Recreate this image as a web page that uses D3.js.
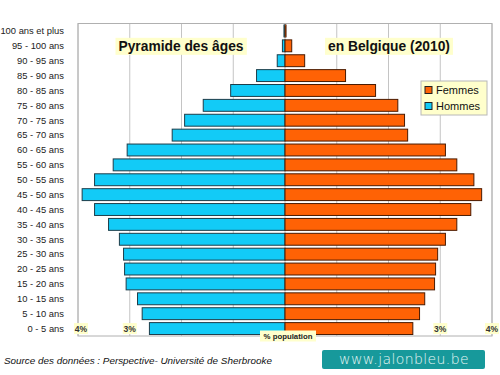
<!DOCTYPE html>
<html>
<head>
<meta charset="utf-8">
<script src="https://cdn.jsdelivr.net/npm/d3@7"></script>
<style>
    body { margin: 0; background: #fff; }
    svg { font-family: Arial, "Liberation Sans", sans-serif; }
</style>
</head>
<body>
<div id="chart"></div>
<script>
// Age groups, top to bottom
const ages = [
    "100 ans et plus", "95 - 100 ans", "90 - 95 ans", "85 - 90 ans", "80 - 85 ans",
    "75 - 80 ans", "70 - 75 ans", "65 - 70 ans", "60 - 65 ans", "55 - 60 ans",
    "50 - 55 ans", "45 - 50 ans", "40 - 45 ans", "35 - 40 ans", "30 - 35 ans",
    "25 - 30 ans", "20 - 25 ans", "15 - 20 ans", "10 - 15 ans", "5 - 10 ans", "0 - 5 ans"
];
// % population, same order
const hommes = [0.02, 0.05, 0.15, 0.55, 1.05, 1.58, 1.94, 2.18, 3.05, 3.32,
    3.68, 3.92, 3.68, 3.41, 3.20, 3.12, 3.10, 3.07, 2.85, 2.76, 2.62];
const femmes = [0.02, 0.13, 0.38, 1.17, 1.75, 2.18, 2.31, 2.37, 3.10, 3.32,
    3.65, 3.80, 3.59, 3.32, 3.10, 2.95, 2.91, 2.89, 2.70, 2.60, 2.47];
const gridTicks = [-4, -3, -2, -1, 0, 1, 2, 3, 4];
const tickLabels = [[-4, "4%"], [-3, "3%"], [3, "3%"], [4, "4%"]];
const series = ["Femmes", "Hommes"];

const width = 500, height = 375;
const margin = { top: 23.5, right: 8, bottom: 39, left: 78 };
const colors = { Hommes: "#12cbf7", Femmes: "#ff6205" };

const svg = d3.select("#chart").append("svg")
    .attr("width", width).attr("height", height);

const x = d3.scaleLinear().domain([-4, 4])
    .range([margin.left, width - margin.right]);
const y = d3.scaleBand().domain(ages)
    .range([margin.top, height - margin.bottom])
    .paddingInner(0.2).paddingOuter(0.1);

// Grid + frame
svg.append("g").selectAll("line").data(gridTicks).join("line")
    .attr("x1", d => x(d)).attr("x2", d => x(d))
    .attr("y1", margin.top).attr("y2", height - margin.bottom)
    .attr("stroke", "#c4c4c4").attr("stroke-width", 1);
svg.append("rect")
    .attr("x", x(-4)).attr("y", margin.top)
    .attr("width", x(4) - x(-4)).attr("height", height - margin.bottom - margin.top)
    .attr("fill", "none").attr("stroke", "#b0b0b0");

// Tick labels (drawn before bars)
const tl = svg.append("g").selectAll("g").data(tickLabels).join("g")
    .attr("transform", d => `translate(${x(d[0]) + (d[0] === -4 ? 3 : 0)},${y("0 - 5 ans") + y.bandwidth() / 2})`);
tl.append("rect").attr("x", -7).attr("y", -5.5).attr("width", 14).attr("height", 11)
    .attr("fill", "#ffffcc");
tl.append("text").attr("text-anchor", "middle").attr("dy", "0.35em")
    .attr("font-size", 8.5).attr("font-weight", "bold").attr("fill", "#333")
    .text(d => d[1]);

// Bars
const x0 = x(0);
svg.append("g").selectAll("rect").data(ages).join("rect")
    .attr("x", (d, i) => x(-hommes[i])).attr("y", d => y(d))
    .attr("width", (d, i) => x0 - x(-hommes[i])).attr("height", y.bandwidth())
    .attr("fill", colors.Hommes).attr("stroke", "#1d3d4a").attr("stroke-width", 1);
svg.append("g").selectAll("rect").data(ages).join("rect")
    .attr("x", x0).attr("y", d => y(d))
    .attr("width", (d, i) => x(femmes[i]) - x0).attr("height", y.bandwidth())
    .attr("fill", colors.Femmes).attr("stroke", "#4a1a00").attr("stroke-width", 1);

// Category labels
svg.append("g").selectAll("text").data(ages).join("text")
    .attr("x", 64).attr("y", d => y(d) + y.bandwidth() / 2).attr("dy", "0.35em")
    .attr("text-anchor", "end").attr("font-size", 9.4).attr("fill", "#222")
    .text(d => d);

// Title boxes
function labelBox(txt, cx, cy, size) {
    const g = svg.append("g");
    const t = g.append("text").attr("x", cx).attr("y", cy).attr("dy", "0.35em")
        .attr("text-anchor", "middle").attr("font-size", size).attr("font-weight", "bold")
        .attr("fill", "#111").text(txt);
    const b = t.node().getBBox();
    g.insert("rect", "text").attr("x", b.x - 3).attr("y", b.y - 1)
        .attr("width", b.width + 6).attr("height", b.height + 2).attr("fill", "#ffffcc");
}
labelBox("Pyramide des âges", 181, 46, 13.8);
labelBox("en Belgique (2010)", 389, 46, 13.8);

// % population
const pg = svg.append("g").attr("transform", `translate(288,${height - margin.bottom})`);
pg.append("rect").attr("x", -28).attr("y", -5.5).attr("width", 56).attr("height", 11).attr("fill", "#ffffcc");
pg.append("text").attr("text-anchor", "middle").attr("dy", "0.35em")
    .attr("font-size", 7.8).attr("font-weight", "bold").attr("fill", "#222").text("% population");

// Legend
const lg = svg.append("g").attr("transform", "translate(421,81)");
lg.append("rect").attr("width", 66).attr("height", 34)
    .attr("fill", "#ffffcc").attr("stroke", "#b8b8b8");
const li = lg.selectAll("g").data(series).join("g")
    .attr("transform", (d, i) => `translate(4,${9.5 + i * 16})`);
li.append("rect").attr("x", 0).attr("y", -4).attr("width", 7).attr("height", 7)
    .attr("fill", d => colors[d]).attr("stroke", "#222");
li.append("text").attr("x", 11).attr("dy", "0.35em").attr("font-size", 11).attr("fill", "#111")
    .text(d => d);

// Source
svg.append("text").attr("x", 4).attr("y", 361).attr("dy", "0.35em")
    .attr("font-size", 9.9).attr("font-style", "italic").attr("fill", "#111")
    .text("Source des données : Perspective- Université de Sherbrooke");

// Watermark
svg.append("rect").attr("x", 322).attr("y", 350).attr("width", 163).attr("height", 19)
    .attr("rx", 2).attr("fill", "#17999b");
svg.append("text").attr("x", 404).attr("y", 359).attr("dy", "0.35em")
    .attr("text-anchor", "middle").attr("font-size", 14).attr("fill", "#e6f6f4")
    .attr("font-family", "'DejaVu Sans'").attr("font-weight", "200").attr("letter-spacing", 0.4)
    .text("www.jalonbleu.be");
</script>
</body>
</html>
